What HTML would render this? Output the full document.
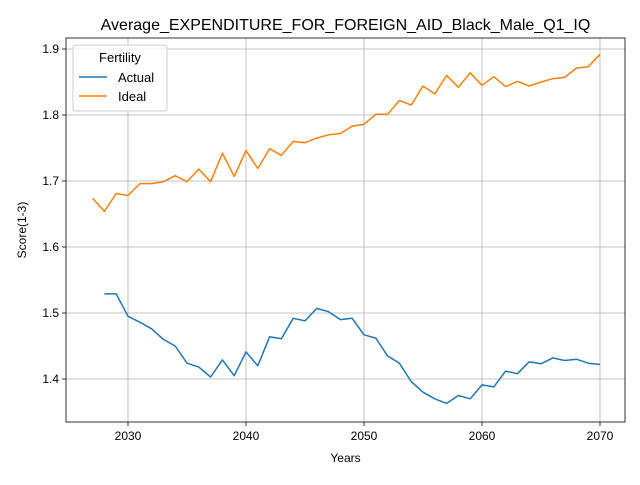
<!DOCTYPE html>
<html><head><meta charset="utf-8"><style>body{margin:0;background:#fff}svg{font-family:"Liberation Sans","DejaVu Sans",sans-serif}</style></head>
<body>
<svg id="c" width="640" height="480" xmlns="http://www.w3.org/2000/svg"></svg>
<script>
const years=[];for(let y=2027;y<=2070;y++)years.push(y);
const idealValues=[1.674,1.654,1.681,1.678,1.696,1.696,1.699,1.708,1.699,1.718,1.699,1.742,1.707,1.746,1.719,1.749,1.739,1.760,1.758,1.765,1.770,1.772,1.783,1.786,1.801,1.801,1.822,1.815,1.844,1.832,1.860,1.842,1.864,1.845,1.858,1.843,1.851,1.844,1.850,1.855,1.857,1.871,1.873,1.892];
const actualValues=[null,1.529,1.529,1.495,1.486,1.476,1.460,1.450,1.424,1.418,1.403,1.429,1.405,1.441,1.420,1.464,1.461,1.492,1.488,1.507,1.502,1.490,1.492,1.467,1.462,1.435,1.424,1.396,1.380,1.370,1.363,1.375,1.370,1.391,1.388,1.412,1.408,1.426,1.423,1.432,1.428,1.430,1.424,1.422];
const xTicks=[2030,2040,2050,2060,2070];
const yTicks=[1.4,1.5,1.6,1.7,1.8,1.9];
const L=66,R=625,T=38,B=422;
const X=v=>128+(v-2030)*11.8;
const Y=v=>49+(1.9-v)*660;
const svg=document.getElementById('c');const NS='http://www.w3.org/2000/svg';
function add(tag,attrs,parent,text){const e=document.createElementNS(NS,tag);for(const k in attrs)e.setAttribute(k,attrs[k]);if(text!==undefined)e.textContent=text;(parent||svg).appendChild(e);return e;}
const grid=add('g',{});
xTicks.forEach(t=>{add('line',{x1:X(t),x2:X(t),y1:T,y2:B,stroke:'#b0b0b0','stroke-width':0.8},grid);
add('line',{x1:X(t),x2:X(t),y1:B,y2:B+4,stroke:'#000','stroke-width':0.8});
const tx=add('text',{x:X(t),y:B+18,'font-size':12,'text-anchor':'middle'},null,t);});
yTicks.forEach(t=>{add('line',{x1:L,x2:R,y1:Y(t),y2:Y(t),stroke:'#b0b0b0','stroke-width':0.8},grid);
add('line',{x1:L-4,x2:L,y1:Y(t),y2:Y(t),stroke:'#000','stroke-width':0.8});
const tx=add('text',{x:L-7,y:Y(t)+4,'font-size':12,'text-anchor':'end'},null,t.toFixed(1));});
function line(vals,color,name){let d='';vals.forEach((v,i)=>{if(v==null)return;d+=(d?'L':'M')+X(years[i]).toFixed(1)+','+Y(v).toFixed(1);});
const p=add('path',{d:d,fill:'none',stroke:color,'stroke-width':1.5,'stroke-linejoin':'round'});}
line(actualValues,'#1f77b4','actual-line');
line(idealValues,'#ff7f0e','ideal-line');
const fr=add('rect',{x:L,y:T,width:R-L,height:B-T,fill:'none',stroke:'#000','stroke-width':0.8});
const ti=add('text',{x:345.5,y:30,'font-size':16,'text-anchor':'middle'},null,'Average_EXPENDITURE_FOR_FOREIGN_AID_Black_Male_Q1_IQ');
const xl=add('text',{x:345.5,y:462,'font-size':12,'text-anchor':'middle'},null,'Years');
const yl=add('text',{x:26,y:230,'font-size':12,'text-anchor':'middle',transform:'rotate(-90 26 230)'},null,'Score(1-3)');
const lg=add('g',{});
add('rect',{x:73,y:45,width:94,height:66,rx:3,fill:'#fff','fill-opacity':0.8,stroke:'#ccc'},lg);
add('text',{x:120,y:62,'font-size':13,'text-anchor':'middle'},lg,'Fertility');
const e1=add('g',{},lg);
add('line',{x1:79,x2:107,y1:77,y2:77,stroke:'#1f77b4','stroke-width':1.5},e1);
add('text',{x:118,y:82,'font-size':13},e1,'Actual');
const e2=add('g',{},lg);
add('line',{x1:79,x2:107,y1:96,y2:96,stroke:'#ff7f0e','stroke-width':1.5},e2);
add('text',{x:118,y:101,'font-size':13},e2,'Ideal');
</script>
</body></html>
